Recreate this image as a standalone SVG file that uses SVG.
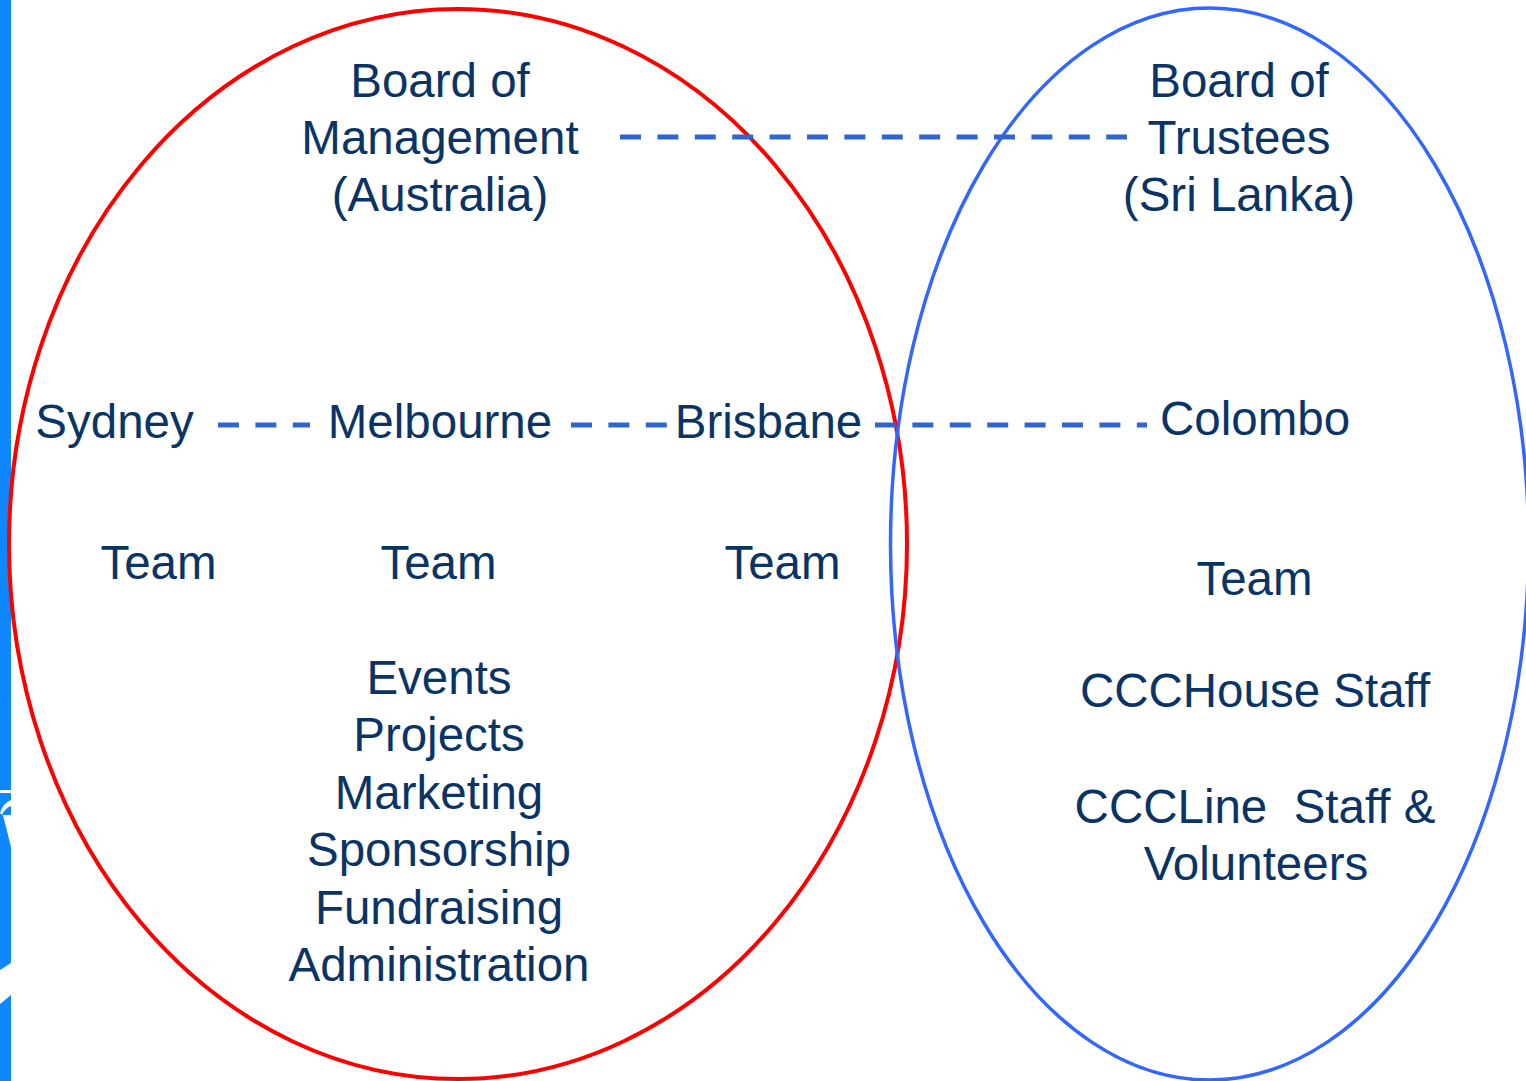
<svg xmlns="http://www.w3.org/2000/svg" width="1526" height="1081" viewBox="0 0 1526 1081">
<style>
  text { font-family: "Liberation Sans", Arial, sans-serif; font-size: 47.5px; fill: #0B3466; text-anchor: middle; }
  .dash { stroke: #3164CC; stroke-width: 5; stroke-dasharray: 21 16.4; fill: none; }
</style>
<rect x="0" y="0" width="1526" height="1081" fill="#FFFFFF"/>
<g id="sidebar">
  <rect x="0" y="0" width="11" height="1081" fill="#0F87FF"/>
  <rect x="0" y="790" width="11" height="3" fill="#FFFFFF"/>
  <path d="M0,813 Q3,803 11,800 L11,806 Q5,808 2,815 Z" fill="#FFFFFF"/>
  <path d="M3,815 L11,815 L11,847 Z" fill="#FFFFFF"/>
  <path d="M0,970 L11,963 L11,995 L0,1004 Z" fill="#FFFFFF"/>
</g>
<g id="australia-ellipse">
  <ellipse cx="458" cy="544" rx="449" ry="535" fill="none" stroke="#FF0000" stroke-width="4"/>
</g>
<g id="srilanka-ellipse">
  <ellipse cx="1209.5" cy="544" rx="319" ry="536" fill="none" stroke="#3366FF" stroke-width="3.5"/>
</g>
<g id="connectors">
  <line class="dash" x1="620" y1="137" x2="1127" y2="137"/>
  <line class="dash" x1="218" y1="425" x2="310" y2="425"/>
  <line class="dash" x1="571" y1="425" x2="667" y2="425"/>
  <line class="dash" x1="875" y1="425" x2="1147" y2="425"/>
</g>
<g id="board-management">
  <text x="440" y="97">Board of</text>
  <text x="440" y="154">Management</text>
  <text x="440" y="211">(Australia)</text>
</g>
<g id="board-trustees">
  <text x="1239" y="97">Board of</text>
  <text x="1239" y="154">Trustees</text>
  <text x="1239" y="211">(Sri Lanka)</text>
</g>
<g id="sydney">
  <text x="114.5" y="438">Sydney</text>
  <text x="158.5" y="579">Team</text>
</g>
<g id="melbourne">
  <text x="440" y="438">Melbourne</text>
  <text x="438.5" y="579">Team</text>
</g>
<g id="brisbane">
  <text x="768.5" y="438">Brisbane</text>
  <text x="782.5" y="579">Team</text>
</g>
<g id="colombo">
  <text x="1255" y="435">Colombo</text>
  <text x="1254.5" y="595">Team</text>
</g>
<g id="functions">
  <text x="439" y="694">Events</text>
  <text x="439" y="751">Projects</text>
  <text x="439" y="809">Marketing</text>
  <text x="439" y="866">Sponsorship</text>
  <text x="439" y="924">Fundraising</text>
  <text x="439" y="981">Administration</text>
</g>
<g id="colombo-staff">
  <text x="1255" y="707">CCCHouse Staff</text>
  <text x="1255" y="823" xml:space="preserve">CCCLine  Staff &amp;</text>
  <text x="1256" y="880">Volunteers</text>
</g>
</svg>
